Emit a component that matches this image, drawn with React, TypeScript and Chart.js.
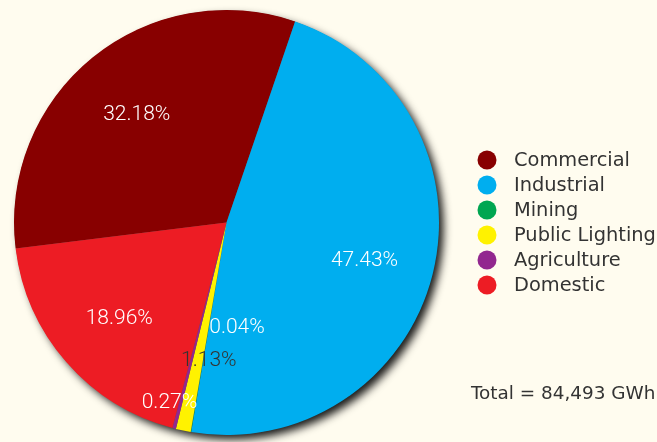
import React, { useEffect, useRef } from "react";
import { Chart, registerables } from "chart.js";

Chart.register(...registerables);

const categories = ["Commercial", "Industrial", "Mining", "Public Lighting", "Agriculture", "Domestic"];
const shares = [32.18, 47.43, 0.04, 1.13, 0.27, 18.96];
const sliceColors = ["#880000", "#00aeef", "#00a651", "#fff200", "#92278f", "#ed1c24"];
const labelColors = ["#ffffff", "#ffffff", "#ffffff", "#333333", "#ffffff", "#ffffff"];
const totalText = "Total = 84,493 GWh";

const BG = "#fffcef";

const shadowPlugin = {
  id: "pieShadow",
  beforeDatasetsDraw(chart: any) {
    const meta = chart.getDatasetMeta(0);
    const arc = meta.data[0];
    if (!arc) return;
    const { x, y, outerRadius } = arc.getProps(["x", "y", "outerRadius"], true);
    const ctx = chart.ctx;
    ctx.save();
    ctx.shadowColor = "rgba(0,0,0,0.9)";
    ctx.shadowBlur = 9;
    ctx.shadowOffsetX = 5;
    ctx.shadowOffsetY = 5;
    ctx.fillStyle = "#555";
    ctx.beginPath();
    ctx.arc(x, y, outerRadius - 0.5, 0, Math.PI * 2);
    ctx.fill();
    ctx.restore();
  },
};

const labelPlugin = {
  id: "sliceLabels",
  afterDatasetsDraw(chart: any, _args: any, opts: any) {
    const meta = chart.getDatasetMeta(0);
    const ctx = chart.ctx;
    ctx.save();
    ctx.font = "300 21px Roboto";
    ctx.textAlign = "center";
    ctx.textBaseline = "middle";
    meta.data.forEach((arc: any, i: number) => {
      const p = arc.getProps(["x", "y", "startAngle", "endAngle", "outerRadius"], true);
      const adj = (opts.adjust && opts.adjust[i]) || [0, 0.67];
      const mid = (p.startAngle + p.endAngle) / 2 + (adj[0] * Math.PI) / 180;
      const r = p.outerRadius * adj[1];
      const lx = p.x + Math.cos(mid) * r;
      const ly = p.y + Math.sin(mid) * r + 3;
      ctx.fillStyle = labelColors[i];
      ctx.fillText(shares[i].toFixed(2) + "%", lx, ly);
    });
    ctx.restore();
  },
};

const legendPlugin = {
  id: "sideLegend",
  afterDraw(chart: any) {
    const ctx = chart.ctx;
    ctx.save();
    const x0 = 487;
    const y0 = 160;
    const step = 25;
    ctx.font = "19.4px 'DejaVu Sans'";
    ctx.textAlign = "left";
    ctx.textBaseline = "middle";
    categories.forEach((c, i) => {
      const y = y0 + i * step;
      ctx.fillStyle = sliceColors[i];
      ctx.beginPath();
      ctx.arc(x0, y, 9.5, 0, Math.PI * 2);
      ctx.fill();
      ctx.fillStyle = "#333333";
      ctx.fillText(c, 514, y + 1);
    });
    ctx.font = "18.4px 'DejaVu Sans'";
    ctx.fillText(totalText, 471, 394);
    ctx.restore();
  },
};

export default function App() {
  const ref = useRef<HTMLCanvasElement | null>(null);
  useEffect(() => {
    document.body.style.background = BG;
    const canvas = ref.current!;
    const chart = new Chart(canvas, {
      type: "pie",
      data: {
        labels: categories,
        datasets: [
          {
            data: shares,
            backgroundColor: sliceColors,
            borderWidth: 0,
          },
        ],
      },
      options: {
        responsive: false,
        animation: false,
        rotation: -97,
        layout: { padding: { left: 14, top: 10, right: 218, bottom: 7 } },
        plugins: {
          legend: { display: false },
          tooltip: { enabled: false },
          sliceLabels: {
            adjust: [null, null, [-15.5, 0.485], [-4.3, 0.642], [3.6, 0.875], null],
          },
        } as any,
      },
      plugins: [shadowPlugin, labelPlugin, legendPlugin],
    });
    return () => chart.destroy();
  }, []);
  return (
    <div style={{ position: "fixed", left: 0, top: 0, width: 657, height: 442, background: BG }}>
      <canvas ref={ref} width={657} height={442} style={{ display: "block" }} />
    </div>
  );
}
